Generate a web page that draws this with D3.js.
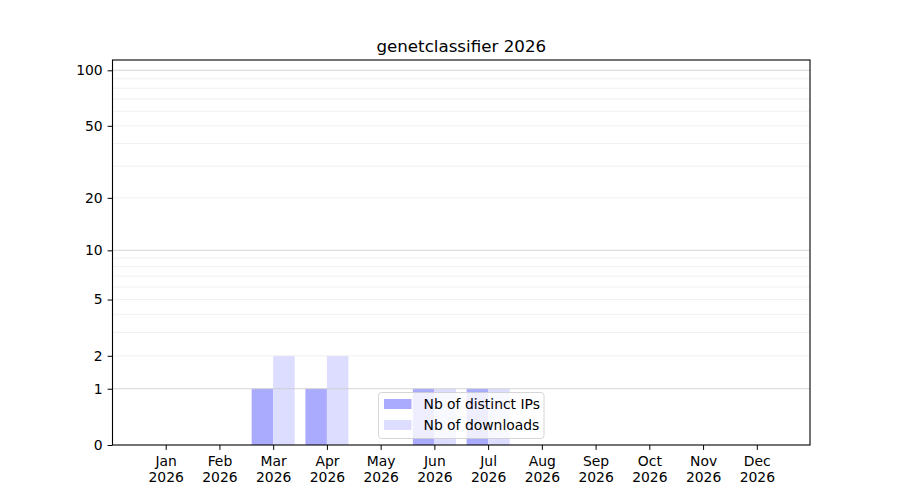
<!DOCTYPE html>
<html>
<head>
<meta charset="utf-8">
<script src="https://cdn.jsdelivr.net/npm/d3@7"></script>
<style>
  body { margin: 0; background: #fff; }
  svg text { font-family: "DejaVu Sans", sans-serif; fill: #000; }
</style>
</head>
<body>
<div id="chart"></div>
<script>
// chart data
const title = 'genetclassifier 2026';
const months = ['Jan', 'Feb', 'Mar', 'Apr', 'May', 'Jun', 'Jul', 'Aug', 'Sep', 'Oct', 'Nov', 'Dec'];
const year = '2026';
const distinctIPs = [0, 0, 1, 1, 0, 1, 1, 0, 0, 0, 0, 0];
const downloads = [0, 0, 2, 2, 0, 1, 1, 0, 0, 0, 0, 0];
const yTicks = [0, 1, 2, 5, 10, 20, 50, 100];
const majorGrid = [1, 10, 100];
const minorGrid = [2, 3, 4, 5, 6, 7, 8, 9, 20, 30, 40, 50, 60, 70, 80, 90];
const seriesNames = ['Nb of distinct IPs', 'Nb of downloads'];
const seriesColors = ['#aaaaff', '#ddddff'];

const W = 900, H = 500;
const margin = { top: 60, right: 90, bottom: 55, left: 112.5 };
const width = W - margin.left - margin.right;
const height = H - margin.top - margin.bottom;
const barW = 0.4;

const svg = d3.select('#chart').append('svg')
    .attr('width', W).attr('height', H);

const g = svg.append('g').attr('transform', 'translate(' + margin.left + ',' + margin.top + ')');

// x is the month index, padded like matplotlib's 5% margins
const x = d3.scaleLinear().domain([-0.99, 11.99]).range([0, width]);
// y axis is log(1+v), same as symlog with constant 1
const y = d3.scaleSymlog().constant(1).domain([0, 113.7]).range([height, 0]);

// bars first, grid goes on top of them
const bars = g.append('g');
bars.selectAll('rect.ips').data(distinctIPs).join('rect')
    .attr('class', 'ips')
    .attr('x', (d, i) => x(i - barW))
    .attr('width', x(barW) - x(0))
    .attr('y', d => y(d))
    .attr('height', d => y(0) - y(d))
    .attr('fill', seriesColors[0]);
bars.selectAll('rect.dl').data(downloads).join('rect')
    .attr('class', 'dl')
    .attr('x', (d, i) => x(i))
    .attr('width', x(barW) - x(0))
    .attr('y', d => y(d))
    .attr('height', d => y(0) - y(d))
    .attr('fill', seriesColors[1]);

// grid lines
g.append('g').selectAll('line').data(minorGrid).join('line')
    .attr('x1', 0).attr('x2', width)
    .attr('y1', d => y(d)).attr('y2', d => y(d))
    .attr('stroke', '#ececec').attr('stroke-width', 0.8);
g.append('g').selectAll('line').data(majorGrid).join('line')
    .attr('x1', 0).attr('x2', width)
    .attr('y1', d => y(d)).attr('y2', d => y(d))
    .attr('stroke', '#cccccc').attr('stroke-width', 0.8);

// axes
const xAxis = d3.axisBottom(x)
    .tickValues(d3.range(months.length))
    .tickFormat(i => months[i])
    .tickSize(4.9).tickPadding(4.9);
const xAxisG = g.append('g').attr('transform', 'translate(0,' + height + ')').call(xAxis);
xAxisG.selectAll('.tick text').each(function(i) {
    const t = d3.select(this);
    t.text(null).attr('y', 0).attr('dy', null);
    t.append('tspan').attr('x', 0).attr('y', 21).text(months[i]);
    t.append('tspan').attr('x', 0).attr('y', 37).text(year);
});

const yAxis = d3.axisLeft(y)
    .tickValues(yTicks)
    .tickFormat(d3.format('d'))
    .tickSize(4.9).tickPadding(4.9);
const yAxisG = g.append('g').call(yAxis);

[xAxisG, yAxisG].forEach(a => {
    a.select('.domain').remove();
    a.selectAll('.tick line').attr('stroke', '#000').attr('stroke-width', 1);
    a.selectAll('.tick text').style('font-size', '13.9px').attr('fill', '#000');
});

// frame
g.append('rect').attr('width', width).attr('height', height)
    .attr('fill', 'none').attr('stroke', '#000').attr('stroke-width', 1.1);

// title
svg.append('text')
    .attr('x', margin.left + width / 2).attr('y', 52)
    .attr('text-anchor', 'middle')
    .style('font-size', '16.7px')
    .text(title);

// legend
const legend = svg.append('g').attr('transform', 'translate(378.5,392.5)');
legend.append('rect')
    .attr('width', 165.5).attr('height', 46)
    .attr('rx', 3)
    .attr('fill', '#fff').attr('fill-opacity', 0.8)
    .attr('stroke', '#cccccc').attr('stroke-width', 0.8);
seriesNames.forEach((name, i) => {
    legend.append('rect')
        .attr('x', 5.5).attr('y', 6.5 + i * 21)
        .attr('width', 27.5).attr('height', 10)
        .attr('fill', seriesColors[i]);
    legend.append('text')
        .attr('x', 45).attr('y', 16 + i * 21)
        .style('font-size', '13.9px')
        .text(name);
});
</script>
</body>
</html>
